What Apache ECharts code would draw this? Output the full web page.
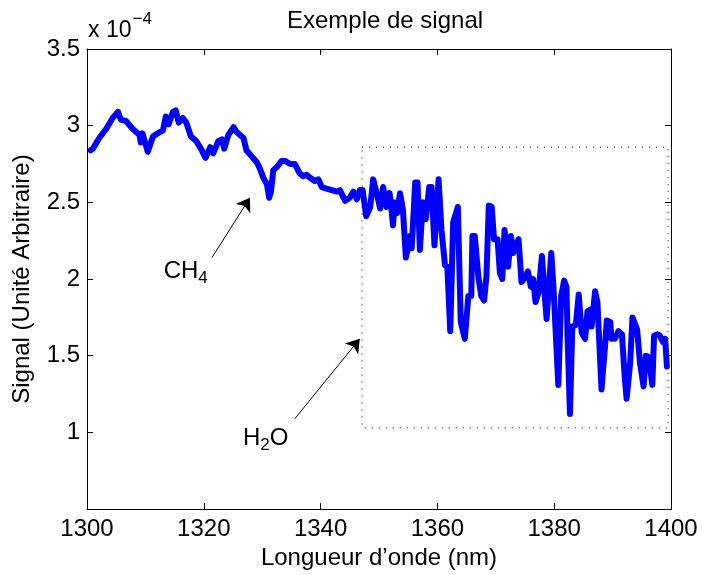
<!DOCTYPE html>
<html lang="fr">
<head>
    <meta charset="UTF-8">
    <title>Exemple de signal</title>
    <script src="https://cdn.jsdelivr.net/npm/echarts@6/dist/echarts.min.js"></script>
</head>
<body style="margin:0">
<div id="main" style="width:703px;height:575px;"></div>
<script type="text/javascript">
    // longueur d'onde (nm) et signal (x 1e-4)
    var wavelengths = [
        1300.6, 1301.0, 1302.1, 1303.3, 1304.4, 1305.3, 1305.8, 1306.7, 1307.8, 1309.0,
        1309.2, 1309.5, 1310.4, 1311.3, 1312.1, 1313.0, 1313.5, 1314.0, 1314.7, 1315.2,
        1315.7, 1316.4, 1317.0, 1317.8, 1318.7, 1319.5, 1320.3, 1321.1, 1321.6, 1322.5,
        1323.1, 1323.5, 1324.2, 1325.1, 1325.6, 1326.2, 1326.8, 1327.3, 1328.2, 1329.1,
        1329.6, 1330.2, 1330.8, 1331.2, 1331.5, 1331.9, 1332.5, 1333.3, 1333.9, 1334.8,
        1335.6, 1336.4, 1337.0, 1337.6, 1338.2, 1339.0, 1339.6, 1340.2, 1341.0, 1341.9,
        1342.8, 1343.3, 1344.2, 1345.0, 1345.6, 1346.2, 1346.7, 1347.2, 1347.8, 1348.5,
        1349.0, 1349.6, 1350.2, 1350.7, 1351.3, 1351.8, 1352.2, 1352.4, 1352.7, 1353.1,
        1353.6, 1354.1, 1354.6, 1355.3, 1355.6, 1356.2, 1356.6, 1357.0, 1357.5, 1358.0,
        1358.6, 1359.0, 1359.5, 1360.2, 1360.7, 1361.3, 1361.7, 1362.2, 1362.7, 1363.5,
        1364.0, 1364.7, 1365.3, 1365.8, 1366.0, 1366.4, 1366.7, 1367.0, 1367.5, 1368.0,
        1368.4, 1368.8, 1369.3, 1369.7, 1370.3, 1370.7, 1371.1, 1371.5, 1372.1, 1372.6,
        1373.0, 1373.4, 1373.9, 1374.4, 1375.0, 1375.5, 1376.0, 1376.4, 1376.8, 1377.3,
        1377.9, 1378.3, 1378.7, 1379.5, 1379.9, 1380.7, 1381.2, 1381.7, 1382.1, 1382.3,
        1382.7, 1383.1, 1383.7, 1384.2, 1384.4, 1384.7, 1385.3, 1385.7, 1386.1, 1386.4,
        1387.0, 1387.4, 1388.1, 1388.7, 1389.0, 1389.6, 1389.8, 1390.4, 1391.0, 1391.6,
        1392.1, 1392.4, 1393.0, 1393.4, 1394.2, 1394.7, 1395.3, 1395.7, 1396.2, 1396.8,
        1397.1, 1397.7, 1398.1, 1398.6, 1399.0, 1399.3
    ];
    var signal = [
        2.84, 2.85, 2.92, 2.98, 3.05, 3.09, 3.04, 3.03, 2.98, 2.94,
        2.89, 2.95, 2.83, 2.93, 2.95, 2.97, 3.06, 3.01, 3.09, 3.10,
        3.02, 3.05, 3.02, 2.93, 2.90, 2.85, 2.79, 2.86, 2.82, 2.90,
        2.91, 2.85, 2.94, 2.99, 2.96, 2.94, 2.92, 2.84, 2.80, 2.76,
        2.72, 2.66, 2.62, 2.53, 2.57, 2.71, 2.73, 2.77, 2.77, 2.75,
        2.75, 2.69, 2.67, 2.68, 2.66, 2.64, 2.65, 2.60, 2.59, 2.58,
        2.57, 2.58, 2.51, 2.53, 2.57, 2.52, 2.58, 2.58, 2.41, 2.47,
        2.65, 2.56, 2.46, 2.60, 2.47, 2.56, 2.43, 2.35, 2.50, 2.43,
        2.56, 2.45, 2.14, 2.28, 2.20, 2.63, 2.63, 2.19, 2.50, 2.39,
        2.60, 2.60, 2.22, 2.65, 2.32, 2.09, 2.08, 1.66, 2.37, 2.47,
        1.72, 1.61, 1.89, 1.89, 2.28, 2.28, 2.15, 2.02, 1.89, 1.86,
        2.02, 2.48, 2.47, 2.26, 2.26, 2.04, 2.00, 2.32, 2.08, 2.28,
        2.17, 2.22, 2.26, 1.98, 2.01, 2.05, 1.95, 2.00, 1.85, 1.91,
        2.15, 1.93, 1.74, 2.17, 1.93, 1.31, 1.89, 1.99, 1.95, 1.61,
        1.12, 1.69, 1.70, 1.90, 1.89, 1.65, 1.61, 1.79, 1.80, 1.69,
        1.92, 1.85, 1.28, 1.56, 1.73, 1.72, 1.61, 1.61, 1.66, 1.64,
        1.35, 1.22, 1.45, 1.75, 1.67, 1.45, 1.30, 1.50, 1.49, 1.31,
        1.63, 1.64, 1.63, 1.59, 1.61, 1.43
    ];
    var xTicks = [1300, 1400, 20];
    var yTicks = [0.5, 3.5, 0.5];
    // zone H2O (pointillés) et flèches
    var boxFrom = [1347.1, 2.86];
    var boxTo = [1399.5, 1.03];
    var arrowCH4 = [[1321.4, 2.14], [1327.9, 2.53]];
    var arrowH2O = [[1335.6, 1.09], [1346.7, 1.61]];
    var labelCH4 = [1316.9, 2.05];
    var labelH2O = [1330.6, 0.96];

    var font = 'Liberation Sans, Arial, sans-serif';
    var points = wavelengths.map(function (w, i) { return [w, signal[i]]; });

    var myChart = echarts.init(document.getElementById('main'));

    function mkX(pos, main) {
        return {
            type: 'value', position: pos, min: xTicks[0], max: xTicks[1], interval: xTicks[2],
            axisLine: {show: true, onZero: false, lineStyle: {color: '#000', width: 1}},
            axisTick: {show: true, inside: true, length: 6, lineStyle: {color: '#000'}},
            axisLabel: {
                show: main, color: '#000', fontSize: 24, fontFamily: font, margin: 8,
                formatter: function (v) { return String(v); }
            },
            splitLine: {show: false},
            name: main ? 'Longueur d\u2019onde (nm)' : '',
            nameLocation: 'middle', nameGap: 32,
            nameTextStyle: {color: '#000', fontSize: 24, fontFamily: font}
        };
    }
    function mkY(pos, main) {
        return {
            type: 'value', position: pos, min: yTicks[0], max: yTicks[1], interval: yTicks[2],
            axisLine: {show: true, onZero: false, lineStyle: {color: '#000', width: 1}},
            axisTick: {show: true, inside: true, length: 6, lineStyle: {color: '#000'}},
            axisLabel: {
                show: main, showMinLabel: false, color: '#000', fontSize: 24, fontFamily: font, margin: 7,
                formatter: function (v) { return String(v); }
            },
            splitLine: {show: false},
            name: main ? 'Signal (Unit\u00e9 Arbitraire)' : '',
            nameLocation: 'middle', nameGap: 53,
            nameTextStyle: {color: '#000', fontSize: 24, fontFamily: font}
        };
    }

    var option = {
        animation: false,
        backgroundColor: '#fff',
        title: {
            text: 'Exemple de signal', left: 380, top: 4, textAlign: 'center',
            textStyle: {color: '#000', fontSize: 24, fontWeight: 'normal', fontFamily: font}
        },
        grid: {left: 87, right: 32, top: 49, bottom: 65},
        xAxis: [mkX('bottom', true), mkX('top', false)],
        yAxis: [mkY('left', true), mkY('right', false)],
        graphic: [{
            type: 'text', left: 88, top: 11,
            style: {
                text: '{a|x 10}{b|\u22124}',
                rich: {
                    a: {fontSize: 23, fontFamily: font, fill: '#000', padding: [10, 0, 0, 0]},
                    b: {fontSize: 17, fontFamily: font, fill: '#000', padding: [0, 0, 12, 1]}
                }
            }
        }],
        series: [{
            type: 'line',
            data: points,
            showSymbol: false,
            lineStyle: {color: '#0000ff', width: 6, join: 'round', cap: 'round'},
            itemStyle: {color: '#0000ff'},
            markArea: {
                silent: true,
                itemStyle: {color: 'rgba(0,0,0,0)', borderColor: '#000', borderWidth: 1, borderType: [1, 6]},
                data: [[{coord: boxFrom}, {coord: boxTo}]]
            },
            markLine: {
                silent: true,
                symbol: ['none', 'arrow'],
                symbolSize: 13,
                label: {show: false},
                lineStyle: {color: '#000', width: 1, type: 'solid'},
                data: [
                    [{coord: arrowCH4[0]}, {coord: arrowCH4[1]}],
                    [{coord: arrowH2O[0]}, {coord: arrowH2O[1]}]
                ]
            },
            markPoint: {
                silent: true,
                symbolSize: 0,
                label: {
                    show: true, position: 'inside', color: '#000',
                    rich: {
                        a: {fontSize: 24, fontFamily: font, color: '#000'},
                        s: {fontSize: 17, fontFamily: font, color: '#000', padding: [14, 0, 0, 0]}
                    }
                },
                data: [
                    {coord: labelCH4, label: {formatter: '{a|CH}{s|4}'}},
                    {coord: labelH2O, label: {formatter: '{a|H}{s|2}{a|O}'}}
                ]
            }
        }]
    };
    myChart.setOption(option);
</script>
</body>
</html>
